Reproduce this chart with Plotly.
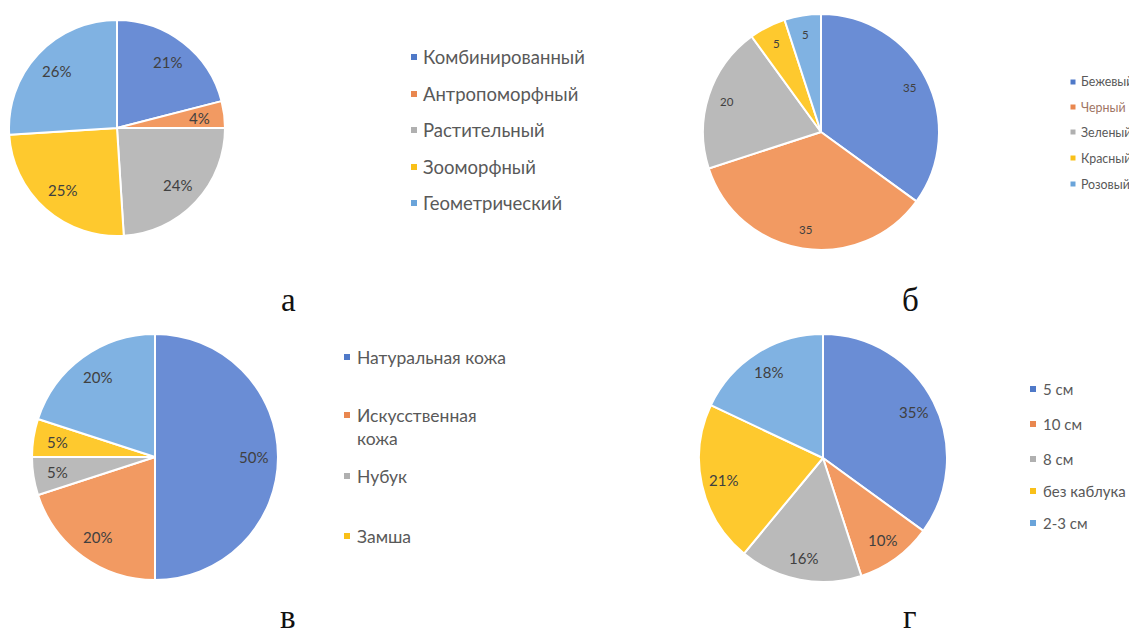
import math
import plotly.graph_objects as go

W, H = 1137, 634
OFF = 8  # default page body margin of the written html

# ---------------- data ----------------
a_labels = ["Комбинированный", "Антропоморфный", "Растительный", "Зооморфный", "Геометрический"]
a_values = [21, 4, 24, 25, 26]

b_labels = ["Бежевый", "Черный", "Зеленый", "Красный", "Розовый"]
b_values = [35, 35, 20, 5, 5]

v_labels = ["Натуральная кожа", "Искусственная<br>кожа", "Нубук", "Замша", "Другое"]
v_values = [50, 20, 5, 5, 20]
v_legend_count = 4  # the fifth item is cut off in the original legend

g_labels = ["5 см", "10 см", "8 см", "без каблука", "2-3 см"]
g_values = [35, 10, 16, 21, 18]

panel_letters = ["а", "б", "в", "г"]

# ---------------- style ----------------
colors = ["#6a8dd5", "#f29a62", "#bababa", "#fec92e", "#80b2e2"]
legend_marker_colors = ["#4f79c8", "#e9874f", "#b0b0b0", "#f9c019", "#6aa4da"]
TEXT_GRAY = "#595959"
LABEL_FONT = "Lato, 'Open Sans', sans-serif"

FW, FH = W - OFF, H - OFF


def px(x):
    return (x - OFF) / FW


def py(y):
    return 1 - (y - OFF) / FH


fig = go.Figure()

# pie placements (center x, center y, radius) in reference pixels; k = label radius fraction
pies = [
    dict(labels=a_labels, values=a_values, cx=117, cy=128, r=108, fmt="pct", fs=15, k=0.77),
    dict(labels=b_labels, values=b_values, cx=821, cy=132, r=118, fmt="val", fs=11.5, k=0.84),
    dict(labels=v_labels, values=v_values, cx=155, cy=457, r=123, fmt="pct", fs=15, k=0.80),
    dict(labels=g_labels, values=g_values, cx=823, cy=458, r=124, fmt="pct", fs=15, k=0.82),
]

annotations = []
shapes = []

for p in pies:
    fig.add_trace(go.Pie(
        labels=p["labels"], values=p["values"],
        sort=False, direction="clockwise", rotation=0,
        marker=dict(colors=colors, line=dict(color="white", width=2)),
        textinfo="none",
        showlegend=False, hoverinfo="label+value+percent",
        domain=dict(x=[px(p["cx"] - p["r"]), px(p["cx"] + p["r"])],
                    y=[py(p["cy"] + p["r"]), py(p["cy"] - p["r"])]),
    ))
    # data labels placed along each slice's bisector (Excel "best fit" style)
    total = sum(p["values"])
    cum = 0
    for v in p["values"]:
        theta = math.radians((cum + v / 2) / total * 360)
        cum += v
        lx = p["cx"] + p["k"] * p["r"] * math.sin(theta)
        ly = p["cy"] - p["k"] * p["r"] * math.cos(theta)
        txt = f"{round(v / total * 100)}%" if p["fmt"] == "pct" else f"{v}"
        annotations.append(dict(x=px(lx), y=py(ly), xref="paper", yref="paper", text=txt,
                                showarrow=False, xanchor="center", yanchor="middle",
                                font=dict(family=LABEL_FONT, size=p["fs"], color="#404040")))


def add_legend(labels, ys, mx, tx, fs, msize, text_colors=None):
    for i, (lab, y) in enumerate(zip(labels, ys)):
        my = y[0] if isinstance(y, tuple) else y
        ty = y[1] if isinstance(y, tuple) else y
        shapes.append(dict(type="rect", xref="paper", yref="paper",
                           x0=px(mx - msize / 2), x1=px(mx + msize / 2),
                           y0=py(my + msize / 2), y1=py(my - msize / 2),
                           fillcolor=legend_marker_colors[i], line=dict(width=0)))
        col = text_colors[i] if text_colors else TEXT_GRAY
        annotations.append(dict(x=px(tx), y=py(ty), xref="paper", yref="paper",
                                text=lab, showarrow=False, xanchor="left", yanchor="middle",
                                align="left",
                                font=dict(family=LABEL_FONT, size=fs, color=col)))


add_legend(a_labels, [57, 94, 130, 167, 203], mx=414, tx=421, fs=18.5, msize=6)
add_legend(b_labels, [82, 107, 132, 158, 184], mx=1073, tx=1079, fs=12.4, msize=5,
           text_colors=[TEXT_GRAY, "#a07565", TEXT_GRAY, TEXT_GRAY, TEXT_GRAY])
add_legend(v_labels[:v_legend_count], [357, (415, 427), 476, 536], mx=347, tx=355, fs=17.5, msize=6)
add_legend(g_labels, [389, 424, 459, 491, 523], mx=1033, tx=1041, fs=15, msize=6)

for letter, (x, y) in zip(panel_letters, [(288, 300), (910, 300), (288, 617), (910, 617)]):
    annotations.append(dict(x=px(x), y=py(y), xref="paper", yref="paper", text=letter,
                            showarrow=False, xanchor="center", yanchor="middle",
                            font=dict(family="'Liberation Serif', 'DejaVu Serif', serif",
                                      size=33, color="#111111")))

fig.update_layout(
    width=FW, height=FH,
    margin=dict(l=0, r=0, t=0, b=0),
    paper_bgcolor="white", plot_bgcolor="white",
    annotations=annotations, shapes=shapes,
    showlegend=False,
)

fig.write_html("out.html")
